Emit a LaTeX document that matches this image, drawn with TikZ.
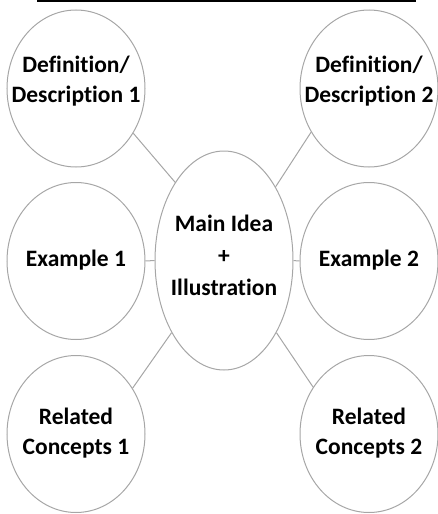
\documentclass[tikz,border=0pt]{standalone}
\usepackage{fontspec}
\setmainfont{Carlito}[Ligatures=NoCommon]
\usetikzlibrary{shapes.geometric}

\begin{document}
\begin{tikzpicture}[x=1pt,y=-1pt,
  bubble/.style={draw=black!35,line width=1pt,ellipse,inner ysep=0pt,inner xsep=-22pt,
    minimum width=138pt,minimum height=157pt,align=center,
    font=\fontsize{23.5}{30}\selectfont\bfseries},
  link/.style={draw=black!35,line width=1pt}]
\useasboundingbox (0,0) rectangle (437,514);
\draw[line width=1.5pt] (37,1) -- (416,1);
% centre and the six bubbles round it
\node[bubble,minimum height=219pt,font=\fontsize{23.5}{32}\selectfont\bfseries,text depth=11pt] (main) at (224,260.5) {Main Idea\\+\\Illustration};
\node[bubble,text depth=19pt] (def1) at (76,88.5) {Definition/\\Description 1};
\node[bubble,text depth=19pt] (def2) at (369,88.5) {Definition/\\Description 2};
\node[bubble,text depth=6pt] (ex1) at (76,261) {Example 1};
\node[bubble,text depth=6pt] (ex2) at (369,261) {Example 2};
\node[bubble,text depth=6pt] (rel1) at (76,434) {Related\\Concepts 1};
\node[bubble,text depth=6pt] (rel2) at (369,434) {Related\\Concepts 2};
\path[link]
 (def1.-38) -- (main.122.6)
 (def2.-143) -- (main.55)
 (ex1) -- (main)
 (ex2) -- (main)
 (rel1.39.4) -- (main.234)
 (rel2.140) -- (main.-54.6);
\end{tikzpicture}
\end{document}
